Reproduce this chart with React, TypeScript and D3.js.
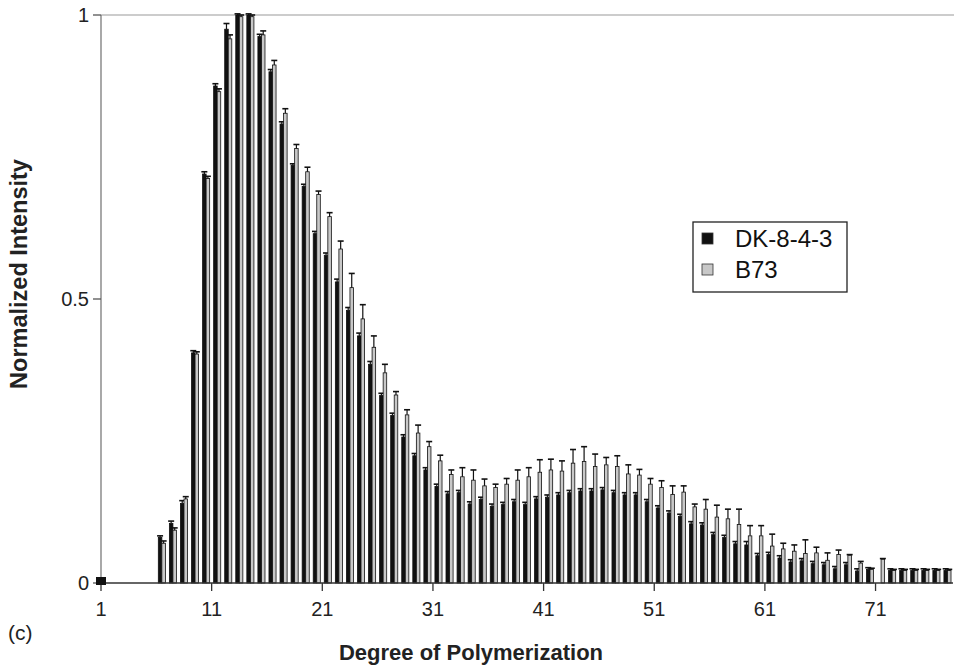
import React from "react";
import * as d3 from "d3";

const categories: number[] = d3.range(1, 78);
const tickLabels: number[] = [1, 11, 21, 31, 41, 51, 61, 71];
const yTicks: { v: number; label: string }[] = [
  { v: 0, label: "0" },
  { v: 0.5, label: "0.5" },
  { v: 1, label: "1" },
];

const dk: number[] = [
  0, 0, 0, 0, 0,
  0.080, 0.105, 0.140, 0.405, 0.720,
  0.875, 0.975, 1.0, 1.0, 0.962,
  0.900, 0.808, 0.735, 0.698, 0.615,
  0.577, 0.530, 0.480, 0.435, 0.385,
  0.330, 0.295, 0.257, 0.224, 0.199,
  0.170, 0.157, 0.159, 0.139, 0.147,
  0.135, 0.138, 0.143, 0.138, 0.148,
  0.151, 0.155, 0.159, 0.162, 0.162,
  0.164, 0.159, 0.155, 0.155, 0.143,
  0.132, 0.123, 0.117, 0.104, 0.102,
  0.085, 0.080, 0.069, 0.067, 0.048,
  0.050, 0.044, 0.037, 0.039, 0.034,
  0.032, 0.025, 0.032, 0.021, 0.024,
  0, 0.022, 0.022, 0.022, 0.022,
  0.022, 0.022,
];

const dkErr: number[] = [
  0, 0, 0, 0, 0,
  0.003, 0.004, 0.005, 0.004, 0.004,
  0.004, 0.010, 0.002, 0.002, 0.004,
  0.004, 0.004, 0.003, 0.004, 0.004,
  0.004, 0.005, 0.005, 0.005, 0.005,
  0.004, 0.004, 0.004, 0.004, 0.004,
  0.004, 0.004, 0.004, 0.004, 0.004,
  0.004, 0.004, 0.004, 0.004, 0.004,
  0.004, 0.004, 0.004, 0.004, 0.004,
  0.004, 0.004, 0.004, 0.004, 0.004,
  0.004, 0.004, 0.004, 0.004, 0.004,
  0.004, 0.004, 0.004, 0.006, 0.004,
  0.004, 0.004, 0.004, 0.004, 0.004,
  0.004, 0.004, 0.004, 0.004, 0.003,
  0, 0.003, 0.003, 0.003, 0.003,
  0.003, 0.003,
];

const b73: number[] = [
  0, 0, 0, 0, 0,
  0.070, 0.093, 0.148, 0.403, 0.712,
  0.865, 0.958, 0.997, 0.997, 0.965,
  0.912, 0.827, 0.765, 0.724, 0.684,
  0.645, 0.588, 0.520, 0.465, 0.415,
  0.370, 0.331, 0.296, 0.264, 0.240,
  0.215, 0.191, 0.187, 0.181, 0.171,
  0.168, 0.174, 0.181, 0.187, 0.195,
  0.199, 0.197, 0.211, 0.214, 0.205,
  0.208, 0.205, 0.192, 0.190, 0.174,
  0.168, 0.156, 0.160, 0.134, 0.130,
  0.116, 0.113, 0.103, 0.083, 0.083,
  0.065, 0.060, 0.056, 0.052, 0.053,
  0.040, 0.050, 0.049, 0.035, 0.024,
  0.042, 0.022, 0.022, 0.022, 0.022,
  0.022, 0.022,
];

const b73Err: number[] = [
  0, 0, 0, 0, 0,
  0.004, 0.004, 0.004, 0.004, 0.004,
  0.005, 0.007, 0.003, 0.003, 0.007,
  0.008, 0.008, 0.007, 0.008, 0.006,
  0.007, 0.014, 0.025, 0.025, 0.020,
  0.015, 0.006, 0.009, 0.014, 0.009,
  0.010, 0.008, 0.016, 0.018, 0.012,
  0.006, 0.010, 0.018, 0.016, 0.022,
  0.019, 0.018, 0.024, 0.026, 0.022,
  0.013, 0.019, 0.016, 0.010, 0.010,
  0.012, 0.015, 0.011, 0.005, 0.017,
  0.021, 0.017, 0.027, 0.018, 0.018,
  0.021, 0.010, 0.011, 0.024, 0.010,
  0.013, 0.008, 0.001, 0.003, 0.002,
  0.001, 0.002, 0.002, 0.002, 0.002,
  0.002, 0.002,
];

const series = [
  { name: "DK-8-4-3", values: dk, err: dkErr, fill: "#111111", side: -1 },
  { name: "B73", values: b73, err: b73Err, fill: "#c8c8c8", side: 1 },
];

const W = 954;
const H = 666;
const left = 101;
const right = 953;
const top = 15;
const bottom = 583;
const FONT = "'Liberation Sans', Arial, sans-serif";

export default function App() {
  const x = d3.scaleBand<number>().domain(categories).range([left, right]).padding(0);
  const y = d3.scaleLinear().domain([0, 1]).range([bottom, top]);
  const bw = x.bandwidth();
  const barW = bw * 0.32;
  const capW = 6;

  return (
    <svg width={W} height={H} style={{ position: "absolute", left: 0, top: 0, background: "#fff" }}>
      <rect x={0} y={0} width={W} height={H} fill="#fff" />
      {/* top gridline */}
      <line x1={left} x2={W} y1={y(1)} y2={y(1)} stroke="#9a9a9a" strokeWidth={1.2} />
      {/* bars */}
      {series.map((s) =>
        categories.map((c, i) => {
          const v = s.values[i];
          if (!v) return null;
          const cx = (x(c) as number) + bw / 2;
          const x0 = s.side < 0 ? cx - barW : cx;
          const ytop = y(v);
          const yerr = y(v + s.err[i]);
          const mid = x0 + barW / 2;
          return (
            <g key={s.name + c}>
              <rect x={x0} y={ytop} width={barW} height={bottom - ytop} fill={s.fill} stroke="#111" strokeWidth={0.8} />
              <line x1={mid} x2={mid} y1={ytop} y2={yerr} stroke="#111" strokeWidth={1.2} />
              <line x1={mid - capW / 2} x2={mid + capW / 2} y1={yerr} y2={yerr} stroke="#111" strokeWidth={1.6} />
            </g>
          );
        })
      )}
      {/* axes */}
      <line x1={left} x2={left} y1={y(1)} y2={bottom} stroke="#7a7a7a" strokeWidth={1.3} />
      <line x1={left} x2={right} y1={bottom} y2={bottom} stroke="#333" strokeWidth={1.3} />
      {yTicks.map((t) => (
        <g key={t.label}>
          <line x1={left - 8} x2={left} y1={y(t.v)} y2={y(t.v)} stroke="#555" strokeWidth={1.3} />
          <text x={left - 12} y={y(t.v)} dy="0.35em" textAnchor="end" fontFamily={FONT} fontSize={20} fill="#222">
            {t.label}
          </text>
        </g>
      ))}
      {tickLabels.map((k) => (
        <g key={k}>
          <line x1={x(k) as number} x2={x(k) as number} y1={bottom} y2={bottom + 8} stroke="#333" strokeWidth={1.3} />
          <text x={x(k) as number} y={bottom + 33} textAnchor="middle" fontFamily={FONT} fontSize={20} fill="#222">
            {k}
          </text>
        </g>
      ))}
      {/* origin marker */}
      <rect x={left - 5} y={bottom - 6} width={10} height={8} fill="#111" />
      {/* axis titles */}
      <text x={471} y={660} textAnchor="middle" fontFamily={FONT} fontSize={22} fontWeight="bold" fill="#222">
        Degree of Polymerization
      </text>
      <text
        transform={`translate(27, ${274}) rotate(-90)`}
        textAnchor="middle"
        fontFamily={FONT}
        fontSize={23.5}
        fontWeight="bold"
        fill="#222"
      >
        Normalized Intensity
      </text>
      <text x={8} y={640} fontFamily={FONT} fontSize={21} fill="#222">
        (c)
      </text>
      {/* legend */}
      <g>
        <rect x={693} y={222} width={154} height={70} fill="#fff" stroke="#222" strokeWidth={1.3} />
        {series.map((s, i) => (
          <g key={s.name} transform={`translate(0, ${i * 31})`}>
            <rect x={702} y={233} width={11} height={11} fill={s.fill} stroke="#333" strokeWidth={0.8} />
            <text x={735} y={247} fontFamily={FONT} fontSize={24} fill="#111">
              {s.name}
            </text>
          </g>
        ))}
      </g>
    </svg>
  );
}
